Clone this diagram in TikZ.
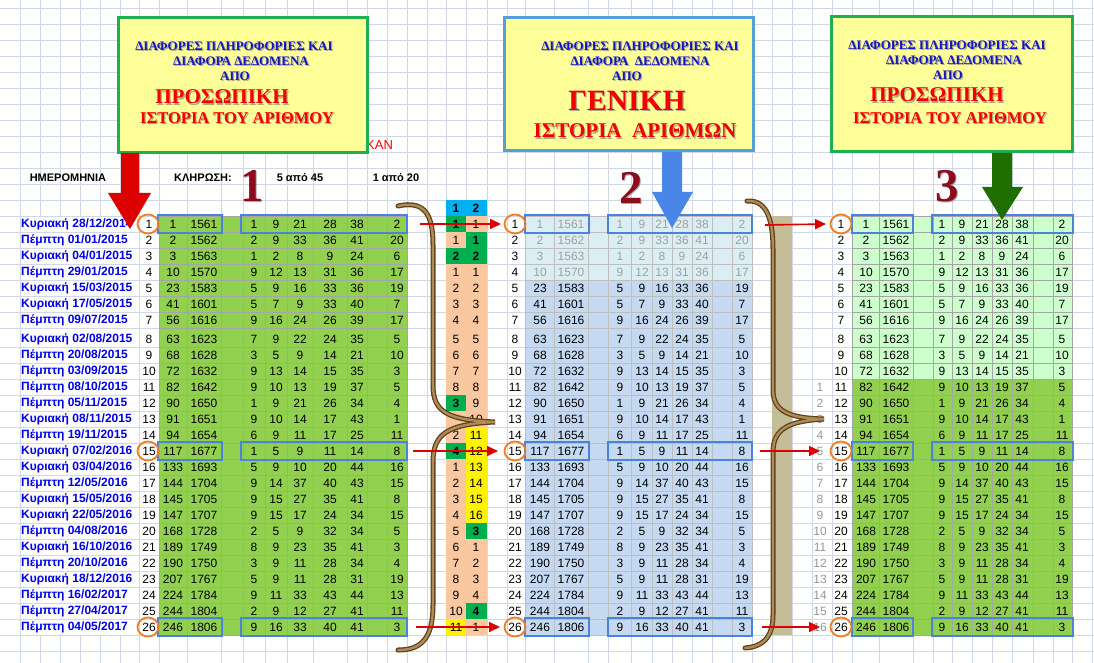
\documentclass[tikz,border=0pt]{standalone}
\usepackage{fontspec}
\setmainfont{Liberation Sans}
\newfontfamily\serifbf{Liberation Serif}
\usetikzlibrary{arrows.meta,shapes.geometric}

\definecolor{gridc}{RGB}{208,215,229}
\definecolor{tlc}{RGB}{165,165,165}
\definecolor{mlc}{RGB}{190,190,190}
\definecolor{lgreen}{RGB}{146,208,80}
\definecolor{pgreen}{RGB}{204,255,204}
\definecolor{lcyan}{RGB}{218,238,243}
\definecolor{lblue}{RGB}{197,217,241}
\definecolor{salm}{RGB}{250,200,160}
\definecolor{dgreen}{RGB}{0,176,80}
\definecolor{hcyan}{RGB}{0,176,240}
\definecolor{tanc}{RGB}{196,189,151}
\definecolor{hbox}{RGB}{75,130,220}
\definecolor{circc}{RGB}{240,125,35}
\definecolor{datec}{RGB}{0,0,230}
\definecolor{arrred}{RGB}{220,0,0}
\definecolor{boxy}{RGB}{255,255,153}
\definecolor{boxg}{RGB}{30,176,80}
\definecolor{boxb}{RGB}{85,160,215}
\definecolor{txtb}{RGB}{20,20,200}
\definecolor{txtr}{RGB}{245,0,0}
\definecolor{digr}{RGB}{140,12,30}
\definecolor{barrow}{RGB}{74,134,232}
\definecolor{garrow}{RGB}{30,110,0}
\definecolor{brA}{RGB}{95,65,30}
\definecolor{brB}{RGB}{175,140,85}
\definecolor{mgray}{RGB}{160,160,160}
\definecolor{secg}{RGB}{150,150,150}

\newcommand\RowY[1]{\pgfmathtruncatemacro\yc{(#1<8)?(224+16*(#1-1)):(227+16*(#1-1))}}

\newcommand\DataRow[6]{%
  \RowY{#1}%
  \ifnum#1<5 \def\mc{mgray}\else\def\mc{black}\fi
  \node[datef] (D#1) at (21,\yc) {#2};
  \node[num] (LI#1) at (149,\yc) {#1};
  \node[num] (LA#1) at (173,\yc) {#3};
  \node[num] (LB#1) at (204,\yc) {#4};
  \node[num] (LJ#1) at (397,\yc) {#6};
  \node[num] (MI#1) at (515,\yc) {#1};
  \node[num,text=\mc] (MA#1) at (540,\yc) {#3};
  \node[num,text=\mc] (MB#1) at (571,\yc) {#4};
  \node[num,text=\mc] (MJ#1) at (742,\yc) {#6};
  \node[num] (RI#1) at (841,\yc) {#1};
  \node[num] (RA#1) at (866,\yc) {#3};
  \node[num] (RB#1) at (896,\yc) {#4};
  \node[num] (RJ#1) at (1062,\yc) {#6};
  \ifnum#1>10 \node[num,text=secg] (RS#1) at (820,\yc) {\the\numexpr#1-10\relax};\fi
  \foreach \qa/\qb/\qc/\qd/\qe in {#5}{%
    \node[num] (LN#1a) at (254,\yc) {\qa};
    \node[num] (LN#1b) at (276,\yc) {\qb};
    \node[num] (LN#1c) at (300,\yc) {\qc};
    \node[num] (LN#1d) at (330,\yc) {\qd};
    \node[num] (LN#1e) at (357,\yc) {\qe};
    \node[num,text=\mc] (MN#1a) at (620,\yc) {\qa};
    \node[num,text=\mc] (MN#1b) at (642,\yc) {\qb};
    \node[num,text=\mc] (MN#1c) at (662,\yc) {\qc};
    \node[num,text=\mc] (MN#1d) at (682,\yc) {\qd};
    \node[num,text=\mc] (MN#1e) at (702,\yc) {\qe};
    \node[num] (RN#1a) at (942,\yc) {\qa};
    \node[num] (RN#1b) at (962,\yc) {\qb};
    \node[num] (RN#1c) at (982,\yc) {\qc};
    \node[num] (RN#1d) at (1002,\yc) {\qd};
    \node[num] (RN#1e) at (1022,\yc) {\qe};
  }%
}

\newcommand\MidRow[5]{%
  \RowY{#1}%
  \pgfmathtruncatemacro\yt{(#1<9)?(216+16*(#1-1)):(347+16*(#1-9))}%
  \pgfmathtruncatemacro\yb{(#1<8)?(\yt+16):((#1==8)?347:(\yt+16))}%
  \fill[mc#3] (446,\yt) rectangle (466.5,\yb);
  \fill[mc#5] (466,\yt) rectangle (487,\yb);
  \node[mt#3] (XA#1) at (456,\yc) {#2};
  \node[mt#5] (XB#1) at (476,\yc) {#4};
}

\newcommand\CallTxt[5]{%
  \node[#4,text=black!55,opacity=0.6] (#1s) at (#2+1.2,#3+1.2) {#5};
  \node[#4] (#1) at (#2,#3) {#5};
}

\begin{document}
\begin{tikzpicture}[x=1pt,y=-1pt,
  num/.style={inner sep=0,font=\fontsize{12}{14}\selectfont},
  numb/.style={inner sep=0,font=\fontsize{12}{14}\selectfont\bfseries},
  datef/.style={inner sep=0,anchor=west,text=datec,font=\fontsize{12}{14}\selectfont\bfseries},
  hdr/.style={inner sep=0,font=\fontsize{11}{13}\selectfont\bfseries},
  mcs/.style={fill=salm}, mcg/.style={fill=dgreen}, mcy/.style={fill=yellow},
  mts/.style={num}, mtg/.style={numb}, mty/.style={num},
  grid/.style={draw=gridc,line width=0.8},
  tl/.style={draw=tlc,line width=0.8},
  ml/.style={draw=mlc,line width=0.8},
  circ/.style={draw=circc,line width=1.8,ellipse,minimum width=21,minimum height=19,inner sep=0},
  hl/.style={draw=hbox,line width=2},
  redarr/.style={draw=arrred,line width=1.6,-{Triangle[length=11,width=10]}},
  callbox/.style={fill=boxy,line width=3,inner sep=0,outer sep=0},
  ctb/.style={inner sep=0,text=txtb,font=\fontsize{13}{15}\selectfont\serifbf\bfseries},
  ctr1/.style={inner sep=0,text=txtr,font=\fontsize{21}{24}\selectfont\serifbf\bfseries},
  ctr2/.style={inner sep=0,text=txtr,font=\fontsize{16.5}{19}\selectfont\serifbf\bfseries},
  ctr3/.style={inner sep=0,text=txtr,font=\fontsize{29.5}{32}\selectfont\serifbf\bfseries},
  ctr4/.style={inner sep=0,text=txtr,font=\fontsize{21}{24}\selectfont\serifbf\bfseries},
  bigdig/.style={inner sep=0,text=digr,font=\fontsize{47}{50}\selectfont\serifbf\bfseries},
  braceA/.style={draw=brA,line width=5,line cap=round},
  braceB/.style={draw=brB,line width=2.4,line cap=round}
]
\useasboundingbox (0,0) rectangle (1094,663);
\fill[white] (0,0) rectangle (1094,663);

\def\RowBounds{216,232,248,264,280,296,312,328,347,363,379,395,411,427,443,459,475,491,507,523,539,555,571,587,603,619,635}

% background grid
\foreach \x in {20,139,159,187,221,243,265,287,313,347,367,387,407,427,446,466,487,507,525,554,588,608,631,652,672,692,712,732,752,772,792,812,832,852,879,913,933,952,972,992,1012,1033,1053,1072,1092}
  \draw[grid] (\x,0) -- (\x,663);
\foreach \x in {40,60,80,100,120}{
  \draw[grid] (\x,0) -- (\x,216);
  \draw[grid] (\x,635) -- (\x,663);
}
\foreach \y in {8,24,40,56,72,88,104,120,136,152,168,184,200,651}
  \draw[grid] (0,\y) -- (1094,\y);
\foreach \y in \RowBounds
  \draw[grid] (0,\y) -- (1094,\y);

% table fills
\fill[lgreen] (159,216) rectangle (407,635);
\fill[lcyan] (525,216) rectangle (752,280);
\fill[lblue] (525,280) rectangle (752,635);
\fill[pgreen] (852,216) rectangle (1072,379);
\fill[lgreen] (852,379) rectangle (1072,635);

% table lines
\foreach \x in {159,187,221,243,265,287,313,347,367,387,407}
  \draw[tl] (\x,216) -- (\x,635);
\foreach \y in \RowBounds
  \draw[tl] (159,\y) -- (407,\y);
\foreach \x in {525,554,588,608,631,652,672,692,712,732,752}
  \draw[ml] (\x,216) -- (\x,635);
\foreach \y in \RowBounds
  \draw[ml] (525,\y) -- (752,\y);
\foreach \x in {852,879,913,933,952,972,992,1012,1033,1053,1072}
  \draw[tl] (\x,216) -- (\x,635);
\foreach \y in \RowBounds
  \draw[tl] (852,\y) -- (1072,\y);

% middle counting columns and tan column
\fill[salm] (446,216) rectangle (487,635);
\fill[hcyan] (446,200) rectangle (487,216);
\node[numb] (H1) at (456,208) {1};
\node[numb] (H2) at (476,208) {2};
\fill[tanc] (772,216) rectangle (792,635);

\MidRow{1}{1}{g}{1}{s}
\MidRow{2}{1}{s}{1}{g}
\MidRow{3}{2}{g}{2}{g}
\MidRow{4}{1}{s}{1}{s}
\MidRow{5}{2}{s}{2}{s}
\MidRow{6}{3}{s}{3}{s}
\MidRow{7}{4}{s}{4}{s}
\MidRow{8}{5}{s}{5}{s}
\MidRow{9}{6}{s}{6}{s}
\MidRow{10}{7}{s}{7}{s}
\MidRow{11}{8}{s}{8}{s}
\MidRow{12}{3}{g}{9}{s}
\MidRow{13}{}{s}{10}{s}
\MidRow{14}{2}{s}{11}{y}
\MidRow{15}{4}{g}{12}{y}
\MidRow{16}{1}{s}{13}{y}
\MidRow{17}{2}{s}{14}{y}
\MidRow{18}{3}{s}{15}{y}
\MidRow{19}{4}{s}{16}{y}
\MidRow{20}{5}{s}{3}{g}
\MidRow{21}{6}{s}{1}{s}
\MidRow{22}{7}{s}{2}{s}
\MidRow{23}{8}{s}{3}{s}
\MidRow{24}{9}{s}{4}{s}
\MidRow{25}{10}{s}{4}{g}
\MidRow{26}{11}{y}{1}{s}

% data rows
\DataRow{1}{Κυριακή 28/12/2014}{1}{1561}{1/9/21/28/38}{2}
\DataRow{2}{Πέμπτη 01/01/2015}{2}{1562}{2/9/33/36/41}{20}
\DataRow{3}{Κυριακή 04/01/2015}{3}{1563}{1/2/8/9/24}{6}
\DataRow{4}{Πέμπτη 29/01/2015}{10}{1570}{9/12/13/31/36}{17}
\DataRow{5}{Κυριακή 15/03/2015}{23}{1583}{5/9/16/33/36}{19}
\DataRow{6}{Κυριακή 17/05/2015}{41}{1601}{5/7/9/33/40}{7}
\DataRow{7}{Πέμπτη 09/07/2015}{56}{1616}{9/16/24/26/39}{17}
\DataRow{8}{Κυριακή 02/08/2015}{63}{1623}{7/9/22/24/35}{5}
\DataRow{9}{Πέμπτη 20/08/2015}{68}{1628}{3/5/9/14/21}{10}
\DataRow{10}{Πέμπτη 03/09/2015}{72}{1632}{9/13/14/15/35}{3}
\DataRow{11}{Πέμπτη 08/10/2015}{82}{1642}{9/10/13/19/37}{5}
\DataRow{12}{Πέμπτη 05/11/2015}{90}{1650}{1/9/21/26/34}{4}
\DataRow{13}{Κυριακή 08/11/2015}{91}{1651}{9/10/14/17/43}{1}
\DataRow{14}{Πέμπτη 19/11/2015}{94}{1654}{6/9/11/17/25}{11}
\DataRow{15}{Κυριακή 07/02/2016}{117}{1677}{1/5/9/11/14}{8}
\DataRow{16}{Κυριακή 03/04/2016}{133}{1693}{5/9/10/20/44}{16}
\DataRow{17}{Πέμπτη 12/05/2016}{144}{1704}{9/14/37/40/43}{15}
\DataRow{18}{Κυριακή 15/05/2016}{145}{1705}{9/15/27/35/41}{8}
\DataRow{19}{Κυριακή 22/05/2016}{147}{1707}{9/15/17/24/34}{15}
\DataRow{20}{Πέμπτη 04/08/2016}{168}{1728}{2/5/9/32/34}{5}
\DataRow{21}{Κυριακή 16/10/2016}{189}{1749}{8/9/23/35/41}{3}
\DataRow{22}{Πέμπτη 20/10/2016}{190}{1750}{3/9/11/28/34}{4}
\DataRow{23}{Κυριακή 18/12/2016}{207}{1767}{5/9/11/28/31}{19}
\DataRow{24}{Πέμπτη 16/02/2017}{224}{1784}{9/11/33/43/44}{13}
\DataRow{25}{Πέμπτη 27/04/2017}{244}{1804}{2/9/12/27/41}{11}
\DataRow{26}{Πέμπτη 04/05/2017}{246}{1806}{9/16/33/40/41}{3}

% highlight boxes
\foreach \r/\yy in {1/224,15/451,26/627}{
  \draw[hl] (158,\yy-9) rectangle (222,\yy+9);
  \draw[hl] (241,\yy-9) rectangle (407,\yy+9);
  \draw[hl] (525,\yy-9) rectangle (589,\yy+9);
  \draw[hl] (608,\yy-9) rectangle (752,\yy+9);
  \draw[hl] (852,\yy-9) rectangle (913,\yy+9);
  \draw[hl] (932,\yy-9) rectangle (1073,\yy+9);
  \node[circ] (CL\r) at (148,\yy) {};
  \node[circ] (CM\r) at (515,\yy) {};
  \node[circ] (CR\r) at (841,\yy) {};
}

% braces
\foreach \s in {braceA,braceB}{
  \draw[\s] (398,206) .. controls (425,200) and (433,215) .. (433,245) -- (433,385)
     .. controls (433,412) and (447,420) .. (495,422)
     .. controls (447,424) and (433,434) .. (433,462) -- (433,605)
     .. controls (433,640) and (420,650) .. (398,650);
  \draw[\s] (747,201) .. controls (765,200) and (773,215) .. (773,250) -- (773,390)
     .. controls (773,412) and (790,418) .. (824,419)
     .. controls (790,421) and (773,428) .. (773,452) -- (773,615)
     .. controls (773,640) and (760,647) .. (745,648);
}

% thin red arrows
\coordinate (a1s) at (420,224); \coordinate (a1e) at (501,224);
\coordinate (a2s) at (413,451); \coordinate (a2e) at (498,451);
\coordinate (a3s) at (416,627); \coordinate (a3e) at (500,627);
\coordinate (b1s) at (765,225); \coordinate (b1e) at (826,224);
\coordinate (b2s) at (760,451); \coordinate (b2e) at (820,451);
\coordinate (b3s) at (762,627); \coordinate (b3e) at (820,627);
\foreach \p in {a1,a2,a3,b1,b2,b3}
  \draw[redarr] (\p s) -- (\p e);

% header row
\node[hdr] (hdate) at (68,178) {ΗΜΕΡΟΜΗΝΙΑ};
\node[hdr] (hdraw) at (203,178) {ΚΛΗΡΩΣΗ:};
\node[hdr] (h545) at (300,178) {5 από 45};
\node[hdr] (h120) at (396,178) {1 από 20};
\node[inner sep=0,anchor=west,text=red,font=\fontsize{13}{15}\selectfont] (kan) at (366,145) {ΚΑΝ};

% callout boxes
\node[callbox,draw=boxg,minimum width=249,minimum height=135] (B1) at (242.5,85.5) {};
\node[callbox,draw=boxb,minimum width=249,minimum height=133] (B2) at (628.5,84.5) {};
\node[callbox,draw=boxg,minimum width=241,minimum height=135] (B3) at (951.5,84.5) {};

\CallTxt{b1a}{234}{46}{ctb}{ΔΙΑΦΟΡΕΣ ΠΛΗΡΟΦΟΡΙΕΣ ΚΑΙ}
\CallTxt{b1b}{241}{61}{ctb}{ΔΙΑΦΟΡΑ ΔΕΔΟΜΕΝΑ}
\CallTxt{b1c}{235}{76}{ctb}{ΑΠΟ}
\CallTxt{b1d}{222}{97}{ctr1}{ΠΡΟΣΩΠΙΚΗ}
\CallTxt{b1e}{237}{118}{ctr2}{ΙΣΤΟΡΙΑ ΤΟΥ ΑΡΙΘΜΟΥ}

\CallTxt{b2a}{640}{46}{ctb}{ΔΙΑΦΟΡΕΣ ΠΛΗΡΟΦΟΡΙΕΣ ΚΑΙ}
\CallTxt{b2b}{640}{61}{ctb}{ΔΙΑΦΟΡΑ\ \ ΔΕΔΟΜΕΝΑ}
\CallTxt{b2c}{627}{76}{ctb}{ΑΠΟ}
\CallTxt{b2d}{627}{101}{ctr3}{ΓΕΝΙΚΗ}
\CallTxt{b2e}{635}{131}{ctr4}{ΙΣΤΟΡΙΑ\ \ ΑΡΙΘΜΩΝ}

\CallTxt{b3a}{947}{45}{ctb}{ΔΙΑΦΟΡΕΣ ΠΛΗΡΟΦΟΡΙΕΣ ΚΑΙ}
\CallTxt{b3b}{954}{60}{ctb}{ΔΙΑΦΟΡΑ ΔΕΔΟΜΕΝΑ}
\CallTxt{b3c}{948}{75}{ctb}{ΑΠΟ}
\CallTxt{b3d}{937}{95}{ctr1}{ΠΡΟΣΩΠΙΚΗ}
\CallTxt{b3e}{950}{118}{ctr2}{ΙΣΤΟΡΙΑ ΤΟΥ ΑΡΙΘΜΟΥ}

% big block arrows
\fill[arrred] (121,153) -- (139,153) -- (139,193) -- (151,193) -- (130,229) -- (108,193) -- (121,193) -- cycle;
\fill[barrow] (662,152) -- (682,152) -- (682,192) -- (693,192) -- (672,228) -- (652,192) -- (662,192) -- cycle;
\fill[garrow] (992,153) -- (1012,153) -- (1012,187) -- (1023,187) -- (1002,220) -- (982,187) -- (992,187) -- cycle;

% big digits
\CallTxt{d1}{252}{186}{bigdig}{1}
\CallTxt{d2}{631}{188}{bigdig}{2}
\CallTxt{d3}{947}{186}{bigdig}{3}
\end{tikzpicture}
\end{document}
